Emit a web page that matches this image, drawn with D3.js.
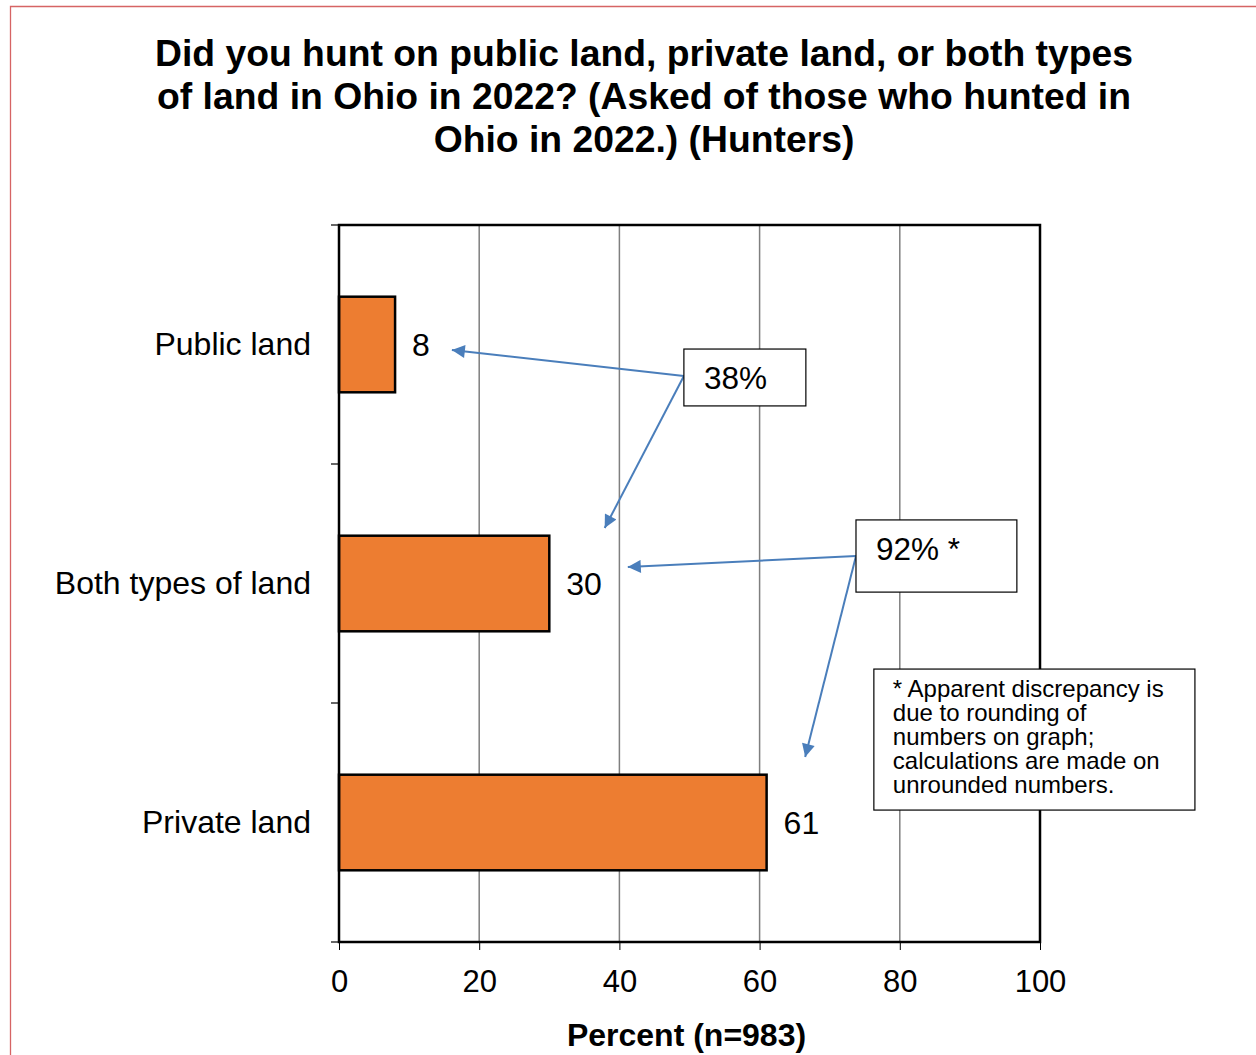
<!DOCTYPE html>
<html>
<head>
<meta charset="utf-8">
<script src="https://cdn.jsdelivr.net/npm/d3@7"></script>
<style>
  html, body { margin: 0; padding: 0; background: #fff; }
  svg { display: block; font-family: "Liberation Sans", Arial, sans-serif; }
</style>
</head>
<body>
<svg id="chart" width="1256" height="1055"></svg>
<script>
// Survey results: where hunters hunted in Ohio in 2022
const categories = ["Public land", "Both types of land", "Private land"];
const values = [8, 30, 61];
const xTicks = [0, 20, 40, 60, 80, 100];
const titleLines = [
  "Did you hunt on public land, private land, or both types",
  "of land in Ohio in 2022? (Asked of those who hunted in",
  "Ohio in 2022.) (Hunters)"
];
const xAxisTitle = "Percent (n=983)";

// Summary callouts, placed in data units (x: percent, y: category rows from top)
const callouts = [
  { text: "38%", box: [49.2, 0.519, 66.6, 0.757], from: [49.2, 0.632],
    to: [[16.1, 0.523], [37.9, 1.268]] },
  { text: "92% *", box: [73.75, 1.234, 96.7, 1.536], from: [73.75, 1.385],
    to: [[41.2, 1.431], [66.5, 2.226]] }
];
const noteLines = [
  "* Apparent discrepancy is",
  "due to rounding of",
  "numbers on graph;",
  "calculations are made on",
  "unrounded numbers."
];
const noteBox = [76.3, 1.858, 122.1, 2.448];

const svg = d3.select("#chart");
const plot = { left: 339, right: 1040, top: 225, bottom: 942 };

const x = d3.scaleLinear().domain([0, 100]).range([plot.left, plot.right]);
const y = d3.scaleBand().domain(categories).range([plot.top, plot.bottom]).padding(0);
const yRow = d3.scaleLinear().domain([0, categories.length]).range([plot.top, plot.bottom]);

// Page frame
svg.append("path")
  .attr("d", `M10.5,1055 V6.5 H1256`)
  .attr("fill", "none")
  .attr("stroke", "#d66464")
  .attr("stroke-width", 1.3);

// Title
svg.append("g").selectAll("text").data(titleLines).join("text")
  .attr("x", 644)
  .attr("y", (d, i) => 66 + i * 43)
  .attr("text-anchor", "middle")
  .attr("font-weight", "bold")
  .attr("font-size", 37.3)
  .attr("fill", "#000")
  .text(d => d);

// Vertical gridlines
svg.append("g").selectAll("line").data(xTicks.filter(t => t > 0 && t < 100)).join("line")
  .attr("x1", d => x(d)).attr("x2", d => x(d))
  .attr("y1", plot.top).attr("y2", plot.bottom)
  .attr("stroke", "#7f7f7f")
  .attr("stroke-width", 1.5);

// Bars
const barH = y.bandwidth() * 0.4;
svg.append("g").selectAll("rect").data(values).join("rect")
  .attr("x", x(0))
  .attr("y", (d, i) => y(categories[i]) + (y.bandwidth() - barH) / 2)
  .attr("width", d => x(d) - x(0))
  .attr("height", barH)
  .attr("fill", "#ed7d31")
  .attr("stroke", "#000")
  .attr("stroke-width", 2.5);

// Value labels
svg.append("g").selectAll("text").data(values).join("text")
  .attr("x", d => x(d) + 17)
  .attr("y", (d, i) => y(categories[i]) + y.bandwidth() / 2 + 11)
  .attr("font-size", 32)
  .attr("fill", "#000")
  .text(d => d);

// Plot frame
svg.append("rect")
  .attr("x", plot.left).attr("y", plot.top)
  .attr("width", plot.right - plot.left).attr("height", plot.bottom - plot.top)
  .attr("fill", "none")
  .attr("stroke", "#000")
  .attr("stroke-width", 2.5);

// X axis
const xAxis = d3.axisBottom(x).tickValues(xTicks).tickSize(8).tickPadding(20).tickFormat(d3.format("d"));
const gx = svg.append("g").attr("transform", `translate(0,${plot.bottom})`).call(xAxis);
gx.select(".domain").remove();
gx.selectAll(".tick line").attr("stroke", "#000").attr("stroke-width", 1);
gx.selectAll(".tick text")
  .attr("font-size", 31)
  .attr("font-family", "'Liberation Sans', Arial, sans-serif")
  .attr("fill", "#000");

// Y axis: tick marks at category boundaries
const yBounds = categories.map(c => y(c)).concat([plot.bottom]);
svg.append("g").selectAll("line").data(yBounds).join("line")
  .attr("x1", plot.left - 8).attr("x2", plot.left)
  .attr("y1", d => d).attr("y2", d => d)
  .attr("stroke", "#000").attr("stroke-width", 1.2);

svg.append("g").selectAll("text").data(categories).join("text")
  .attr("x", 311)
  .attr("y", d => y(d) + y.bandwidth() / 2 + 10)
  .attr("text-anchor", "end")
  .attr("font-size", 32)
  .attr("fill", "#000")
  .text(d => d);

// Axis title
svg.append("text")
  .attr("x", x(50) - 3)
  .attr("y", 1046)
  .attr("text-anchor", "middle")
  .attr("font-weight", "bold")
  .attr("font-size", 32)
  .attr("fill", "#000")
  .text(xAxisTitle);

// Arrow marker
svg.append("defs").append("marker")
  .attr("id", "arrowhead")
  .attr("viewBox", "0 0 10 10")
  .attr("refX", 10).attr("refY", 5)
  .attr("markerUnits", "userSpaceOnUse")
  .attr("markerWidth", 17).attr("markerHeight", 13)
  .attr("orient", "auto")
  .append("path")
  .attr("d", "M0,0 L10,5 L0,10 Z")
  .attr("fill", "#4a7ebb");

// Callout arrows and boxes
const cg = svg.append("g");
callouts.forEach(c => {
  c.to.forEach(t => {
    cg.append("line")
      .attr("x1", x(c.from[0])).attr("y1", yRow(c.from[1]))
      .attr("x2", x(t[0])).attr("y2", yRow(t[1]))
      .attr("stroke", "#4a7ebb")
      .attr("stroke-width", 2)
      .attr("marker-end", "url(#arrowhead)");
  });
  cg.append("rect")
    .attr("x", x(c.box[0])).attr("y", yRow(c.box[1]))
    .attr("width", x(c.box[2]) - x(c.box[0]))
    .attr("height", yRow(c.box[3]) - yRow(c.box[1]))
    .attr("fill", "#fff")
    .attr("stroke", "#000")
    .attr("stroke-width", 1.2);
  cg.append("text")
    .attr("x", x(c.box[0]) + 20)
    .attr("y", yRow(c.box[1]) + 40)
    .attr("font-size", 31.5)
    .attr("fill", "#000")
    .text(c.text);
});

// Footnote box
svg.append("rect")
  .attr("x", x(noteBox[0])).attr("y", yRow(noteBox[1]))
  .attr("width", x(noteBox[2]) - x(noteBox[0]))
  .attr("height", yRow(noteBox[3]) - yRow(noteBox[1]))
  .attr("fill", "#fff")
  .attr("stroke", "#000")
  .attr("stroke-width", 1.2);
svg.append("g").selectAll("text").data(noteLines).join("text")
  .attr("x", x(noteBox[0]) + 19)
  .attr("y", (d, i) => yRow(noteBox[1]) + 28 + i * 24)
  .attr("font-size", 24)
  .attr("fill", "#000")
  .text(d => d);
</script>
</body>
</html>
